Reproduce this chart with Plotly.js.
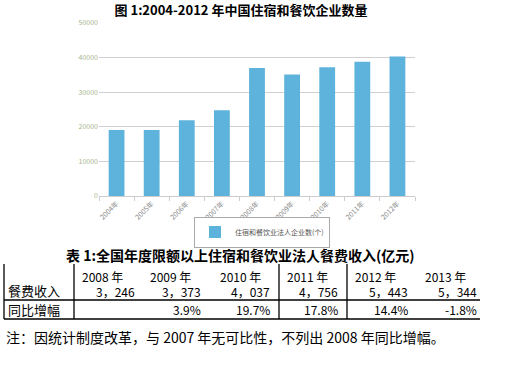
<!DOCTYPE html>
<html><head><meta charset="utf-8">
<script src="https://cdn.plot.ly/plotly-3.0.1.min.js"></script>
<style>body{margin:0;background:#fff}#c{width:512px;height:384px}</style>
</head><body><div id="c"></div>
<script>
// chart data
const categories = ["2004年","2005年","2006年","2007年","2008年","2009年","2010年","2011年","2012年"];
const enterpriseCounts = [19100, 19100, 21900, 24800, 37000, 35100, 37200, 38800, 40300];
const seriesName = "住宿和餐饮业法人企业数(个)";
const yTicks = [0, 10000, 20000, 30000, 40000, 50000];

// table data
const tableYears = ["2008 年","2009 年","2010 年","2011 年","2012 年","2013 年"];
const revenue = ["3，246","3，373","4，037","4，756","5，443","5，344"];
const growth = ["","3.9%","19.7%","17.8%","14.4%","-1.8%"];
const rowLabels = ["餐费收入","同比增幅"];

const chartTitle = "图 1:2004-2012 年中国住宿和餐饮企业数量";
const tableTitle = "表 1:全国年度限额以上住宿和餐饮业法人餐费收入(亿元)";
const note = "注：因统计制度改革，与 2007 年无可比性，不列出 2008 年同比增幅。";

const W = 512, H = 384;
const L = 99, R = 97, T = 23, B = 188;
const pw = W - L - R, ph = H - T - B;
const px = x => (x - L) / pw;
const py = y => (H - B - y) / ph;

const FONT = "Noto Sans CJK SC, sans-serif";
const annotations = [];
const shapes = [];

// table title
annotations.push({xref:'paper', yref:'paper', x:px(240), y:py(255), xanchor:'center', yanchor:'middle',
  text:'<b>'+tableTitle+'</b>', showarrow:false, font:{family:FONT, size:14, color:'#000'}});

// table lines
const line = (x0,y0,x1,y1) => shapes.push({type:'line', xref:'paper', yref:'paper',
  x0:px(x0), y0:py(y0), x1:px(x1), y1:py(y1), line:{color:'#000', width:1.3}});
line(4, 300, 480, 300);
line(4, 319, 480, 319);
[4, 74, 279, 347].forEach(x => line(x, 264, x, 319));

const yearX = [80, 148, 218, 285, 353, 423];
const valRight = [137, 203, 272, 340, 410, 479];
tableYears.forEach((t,i) => annotations.push({xref:'paper', yref:'paper', x:px(yearX[i]), y:py(276),
  xanchor:'left', yanchor:'middle', text:t, showarrow:false, font:{family:FONT, size:12, color:'#000'}}));
revenue.forEach((t,i) => annotations.push({xref:'paper', yref:'paper', x:px(valRight[i]), y:py(291),
  xanchor:'right', yanchor:'middle', text:t, showarrow:false, font:{family:FONT, size:12, color:'#000'}}));
growth.forEach((t,i) => { if (t) annotations.push({xref:'paper', yref:'paper', x:px(valRight[i]), y:py(309),
  xanchor:'right', yanchor:'middle', text:t, showarrow:false, font:{family:FONT, size:12, color:'#000'}}); });
rowLabels.forEach((t,i) => annotations.push({xref:'paper', yref:'paper', x:px(6), y:py(i===0?290:309),
  xanchor:'left', yanchor:'middle', text:t, showarrow:false, font:{family:FONT, size:13, color:'#000'}}));

// note
annotations.push({xref:'paper', yref:'paper', x:px(4), y:py(337), xanchor:'left', yanchor:'middle',
  text:note, showarrow:false, font:{family:FONT, size:14, color:'#000'}});

const trace = {
  type:'bar', x:categories, y:enterpriseCounts, name:seriesName, width:0.45,
  marker:{color:'#5db3db'}, showlegend:true, hoverinfo:'skip'
};

const layout = {
  width:W, height:H, margin:{l:L, r:R, t:T, b:B},
  paper_bgcolor:'#fff', plot_bgcolor:'#fff',
  font:{family:FONT},
  title:{text:'<b>'+chartTitle+'</b>', font:{family:FONT, size:13, color:'#000'},
    xref:'paper', x:px(241), xanchor:'center', yref:'container', y:1-10/H, yanchor:'middle'},
  xaxis:{type:'category', range:[-0.5, 8.5], tickangle:-45, tickfont:{size:7, color:'#888'},
    showline:true, linecolor:'#ccc', ticks:'outside', ticklen:4, tickcolor:'#ccc', tickson:'boundaries',
    showgrid:false, fixedrange:true},
  yaxis:{range:[0, 50000], tickvals:yTicks, ticktext:yTicks.map(String), tickfont:{size:7, color:'#a7b48c'},
    gridcolor:'#d0d0d0', gridwidth:1, zeroline:false, showline:false, ticks:'', fixedrange:true},
  legend:{orientation:'h', x:px(262), xanchor:'center', y:py(232), yanchor:'middle',
    bordercolor:'#aaa', borderwidth:1, font:{size:7, color:'#555'}, itemwidth:30},
  shapes:shapes, annotations:annotations
};
Plotly.newPlot('c', [trace], layout, {staticPlot:true, displayModeBar:false});
</script></body></html>
